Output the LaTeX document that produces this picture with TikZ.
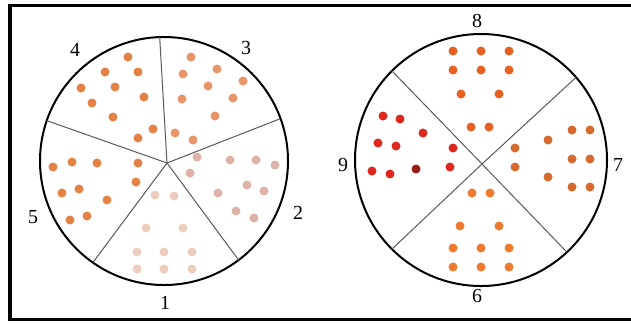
\documentclass[tikz,border=0pt]{standalone}
\usepackage{fontspec}
\setmainfont{Liberation Serif}
\usepackage{tikz}
\definecolor{grainA}{RGB}{228,130,70}
\definecolor{grainB}{RGB}{232,150,105}
\definecolor{grainC}{RGB}{222,178,168}
\definecolor{grainD}{RGB}{236,205,190}
\definecolor{grainE}{RGB}{232,95,35}
\definecolor{grainF}{RGB}{222,40,30}
\definecolor{grainG}{RGB}{214,105,45}
\definecolor{grainH}{RGB}{238,122,45}
\tikzset{
  dish_node/.style = {circle, draw=black, line width=0.6mm,
    inner sep=0pt, outer sep=0pt},% boite ronde
  spoke_line/.style = {draw=black!65, line width=0.3mm},% secteur
  grain_dot/.style = {circle, inner sep=0pt, minimum size=2.7mm},% grain
  num_label/.style = {inner sep=0pt, font=\fontsize{17}{17}\selectfont}% numero du secteur
}
\begin{document}
\begin{tikzpicture}[x=0.3mm, y=-0.3mm]
    \useasboundingbox (0,0) rectangle (631,323);
    \draw[line width=1.1mm] (10,5.5) rectangle (645,319.5);

    % boite de gauche
    \node [dish_node, minimum size=74.4mm] (dish_l) at (164,161) {};
    \coordinate (hub_l) at (167,163);
    \foreach \a in {92.7, 20.8, -53.6, -125, 161.9}
      \draw[spoke_line] (hub_l) -- (dish_l.\a);
    \foreach \x/\y [count=\i] in {128/57,105/72,138/72,81/88,115/87,144/97,92/103,113/117,153/129,138/138}
      \node [grain_dot, fill=grainA] (g4-\i) at (\x,\y) {};
    \foreach \x/\y [count=\i] in {191/57,183/74,217/69,243/81,208/86,182/99,233/98,215/116,175/133,193/140}
      \node [grain_dot, fill=grainB] (g3-\i) at (\x,\y) {};
    \foreach \x/\y [count=\i] in {197/157,190/173,230/160,256/160,275/165,247/185,264/191,218/193,236/211,254/218}
      \node [grain_dot, fill=grainC] (g2-\i) at (\x,\y) {};
    \foreach \x/\y [count=\i] in {53/167,72/162,97/163,138/163,136/182,62/193,79/189,107/200,70/220,87/216}
      \node [grain_dot, fill=grainA] (g5-\i) at (\x,\y) {};
    \foreach \x/\y [count=\i] in {155/195,174/196,146/228,183/228,137/252,164/252,192/252,137/269,164/269,192/269}
      \node [grain_dot, fill=grainD] (g1-\i) at (\x,\y) {};
    \node [num_label] (n4) at (75,50) {4};
    \node [num_label] (n3) at (246,48) {3};
    \node [num_label] (n2) at (298,213) {2};
    \node [num_label] (n5) at (33,217) {5};
    \node [num_label] (n1) at (165,303) {1};

    % boite de droite
    \node [dish_node, minimum size=75.6mm] (dish_r) at (481,160) {};
    \coordinate (hub_r) at (482,164);
    \foreach \a in {135.6, 41, -135, -47.6}
      \draw[spoke_line] (hub_r) -- (dish_r.\a);
    \foreach \x/\y [count=\i] in {453/51,481/51,509/51,453/70,481/70,509/70,461/94,499/94,471/127,489/127}
      \node [grain_dot, fill=grainE] (g8-\i) at (\x,\y) {};
    \foreach \x/\y [count=\i] in {383/116,400/119,423/133,378/143,396/146,453/148,372/171,390/174,450/167}
      \node [grain_dot, fill=grainF] (g9-\i) at (\x,\y) {};
    \node [grain_dot, fill=grainF!70!black] (g9-10) at (416,169) {};
    \foreach \x/\y [count=\i] in {548/140,572/130,590/130,515/148,515/167,572/159,590/159,548/177,572/187,590/187}
      \node [grain_dot, fill=grainG] (g7-\i) at (\x,\y) {};
    \foreach \x/\y [count=\i] in {472/193,490/193,460/226,499/226,453/248,481/248,509/248,453/267,481/267,509/267}
      \node [grain_dot, fill=grainH] (g6-\i) at (\x,\y) {};
    \node [num_label] (n8) at (477,21) {8};
    \node [num_label] (n9) at (343,165) {9};
    \node [num_label] (n7) at (618,165) {7};
    \node [num_label] (n6) at (477,296) {6};
\end{tikzpicture}
\end{document}
